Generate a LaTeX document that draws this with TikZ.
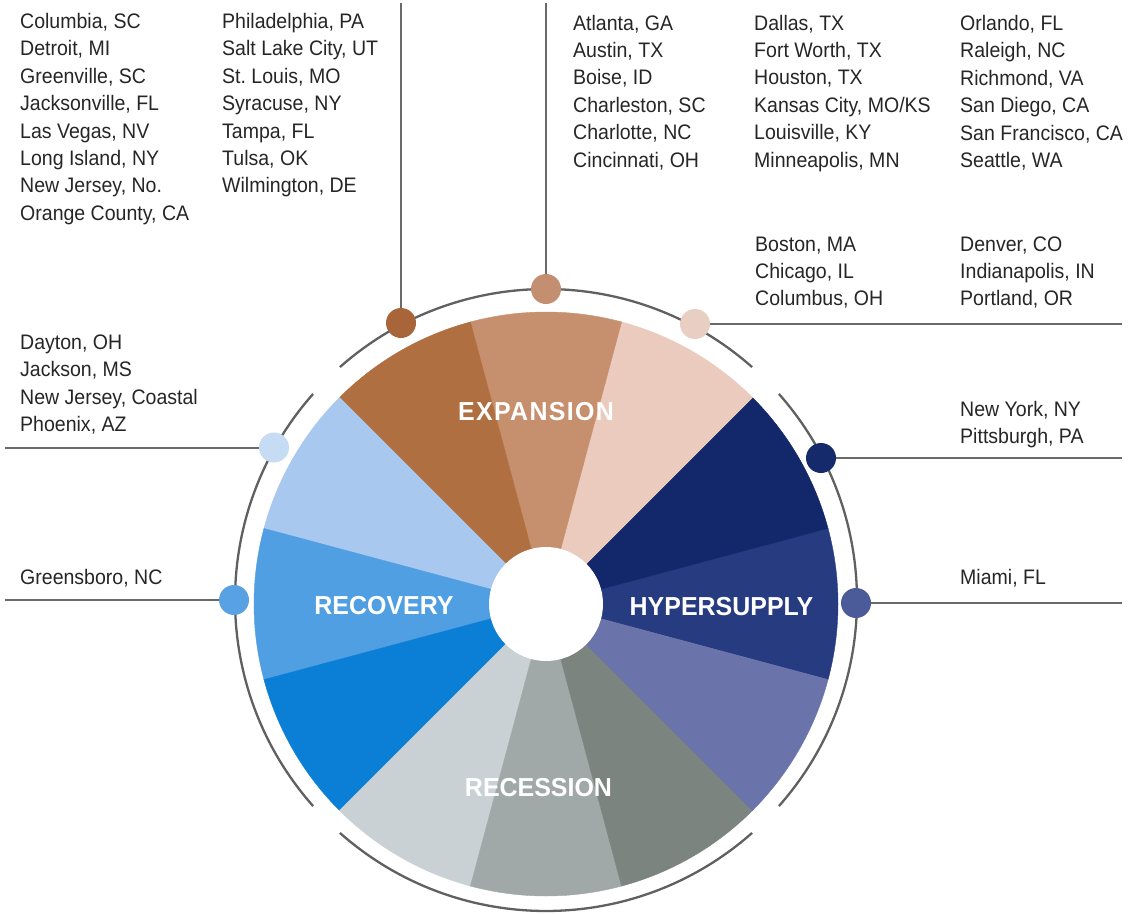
\documentclass[tikz,border=0pt]{standalone}
\usepackage{fontspec}
\setmainfont{Liberation Sans}[FakeStretch=0.93]
\newfontfamily\labfont{Liberation Sans}[FakeStretch=0.96]
\frenchspacing
\definecolor{txt}{HTML}{262626}
\definecolor{linegray}{HTML}{6A6A6A}
\definecolor{ringgray}{HTML}{606060}
\definecolor{wA}{HTML}{273C80}
\definecolor{wB}{HTML}{13286A}
\definecolor{wC}{HTML}{EBCBBD}
\definecolor{wD}{HTML}{C68F6E}
\definecolor{wE}{HTML}{B06F40}
\definecolor{wF}{HTML}{A8C8EF}
\definecolor{wG}{HTML}{509FE2}
\definecolor{wH}{HTML}{0B7FD6}
\definecolor{wI}{HTML}{C9D1D5}
\definecolor{wJ}{HTML}{A1A8A8}
\definecolor{wK}{HTML}{7C847F}
\definecolor{wL}{HTML}{6A74AB}
\definecolor{dA}{HTML}{A9653A}
\definecolor{dB}{HTML}{C48F70}
\definecolor{dC}{HTML}{E9CFC3}
\definecolor{dD}{HTML}{C6DCF5}
\definecolor{dE}{HTML}{152A6B}
\definecolor{dF}{HTML}{58A2E3}
\definecolor{dG}{HTML}{4B5A99}
\tikzset{
  city/.style={anchor=base west, align=left, inner sep=0pt, text=txt,
    font=\fontsize{21}{27.4}\selectfont\frenchspacing},
  phase/.style={inner sep=0pt, text=white,
    font=\labfont\bfseries\fontsize{26}{30}\selectfont},
  leader/.style={draw=linegray, line width=2pt},
  ringarc/.style={draw=ringgray, line width=2.3pt},
  dotnode/.style={circle, minimum size=30pt, inner sep=0pt},
}
\begin{document}
\begin{tikzpicture}[x=1pt,y=-1pt]
\useasboundingbox (0,0) rectangle (1129,913);
\fill[white] (0,0) rectangle (1129,913);
% wheel
\begin{scope}[shift={(546,604)}, yscale=-1]
  \foreach \a/\c in {0/wA,30/wB,60/wC,90/wD,120/wE,150/wF,180/wG,210/wH,240/wI,270/wJ,300/wK,330/wL}{
    \filldraw[fill=\c, draw=\c, line width=0.4pt] (0,0) -- (\a-15:292)
      arc[start angle=\a-15, end angle=\a+15, radius=292] -- cycle;
  }
  \fill[white] (0,0) circle[radius=57];
\end{scope}
% ring
\begin{scope}[shift={(546,600)}, yscale=-1]
  \foreach \s in {45,135,225,315}{
    \draw[ringarc] (\s+3.5:311) arc[start angle=\s+3.5, end angle=\s+86.5, radius=311];
  }
\end{scope}
% dots
\node[dotnode, fill=dA] (d1) at (401,323) {};
\node[dotnode, fill=dB] (d2) at (546,289) {};
\node[dotnode, fill=dC] (d3) at (695,324) {};
\node[dotnode, fill=dD] (d4) at (274,447.5) {};
\node[dotnode, fill=dE] (d5) at (821,458) {};
\node[dotnode, fill=dF] (d6) at (234,600) {};
\node[dotnode, fill=dG] (d7) at (856,603) {};
% leader ends
\coordinate (t1) at (401,3);
\coordinate (t2) at (546,3);
\coordinate (t3) at (1122,324);
\coordinate (t4) at (5,447.5);
\coordinate (t5) at (1122,458);
\coordinate (t6) at (5,600);
\coordinate (t7) at (1122,603);
\foreach \i in {1,...,7}{ \draw[leader] (d\i) -- (t\i); }
% phase labels
\node[phase] (lexp) at (536,412) {\addfontfeature{LetterSpace=5}EXPANSION};
\node[phase] (lrec) at (384,605.5) {RECOVERY};
\node[phase] (lhyp) at (721.5,606.5) {HYPERSUPPLY};
\node[phase] (lres) at (538.5,788) {RECESSION};
% city lists (anchored at the baseline of their last line)
\node[city] (b1) at (20,220.3) {Columbia, SC\\Detroit, MI\\Greenville, SC\\Jacksonville, FL\\Las Vegas, NV\\Long Island, NY\\New Jersey, No.\\Orange County, CA};
\node[city] (b2) at (222,192.9) {Philadelphia, PA\\Salt Lake City, UT\\St. Louis, MO\\Syracuse, NY\\Tampa, FL\\Tulsa, OK\\Wilmington, DE};
\node[city] (b3) at (573,167) {Atlanta, GA\\Austin, TX\\Boise, ID\\Charleston, SC\\Charlotte, NC\\Cincinnati, OH};
\node[city] (b4) at (754,167) {Dallas, TX\\Fort Worth, TX\\Houston, TX\\Kansas City, MO/KS\\Louisville, KY\\Minneapolis, MN};
\node[city] (b5) at (960,167.5) {Orlando, FL\\Raleigh, NC\\Richmond, VA\\San Diego, CA\\San Francisco, CA\\Seattle, WA};
\node[city] (b6) at (755,305.8) {Boston, MA\\Chicago, IL\\Columbus, OH};
\node[city] (b7) at (960,305.8) {Denver, CO\\Indianapolis, IN\\Portland, OR};
\node[city] (b8) at (20,431.7) {Dayton, OH\\Jackson, MS\\New Jersey, Coastal\\Phoenix, AZ};
\node[city] (b9) at (960,443.9) {New York, NY\\Pittsburgh, PA};
\node[city] (b10) at (20,584.5) {Greensboro, NC};
\node[city] (b11) at (960,584.5) {Miami, FL};
\end{tikzpicture}
\end{document}
